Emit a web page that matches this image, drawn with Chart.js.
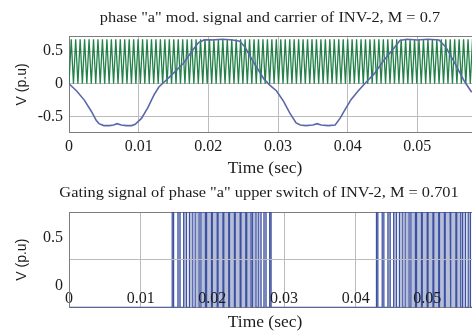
<!DOCTYPE html>
<html>
<head>
<meta charset="utf-8">
<script src="https://cdn.jsdelivr.net/npm/chart.js@4.4.1/dist/chart.umd.min.js"></script>
<style>
  body { margin: 0; width: 472px; height: 331px; overflow: hidden; background: #fff; position: relative; }
  .box { position: absolute; left: 0; }
  .txt { position: absolute; font-family: "Liberation Serif", "Times New Roman", serif; color: #1c1c1c;
         white-space: nowrap; transform: translateX(-50%) scaleX(1.09); line-height: 20px; height: 20px; }
</style>
</head>
<body>
<div class="box" style="top:0; width:505px; height:161px;"><canvas id="modChart"></canvas></div>
<div class="box" style="top:180px; width:505px; height:143px;"><canvas id="gateChart"></canvas></div>

<div class="txt" style="left:270px; top:7px; font-size:15px;">phase "a" mod. signal and carrier of INV-2, M = 0.7</div>
<div class="txt" style="left:265px; top:158px; font-size:16px;">Time (sec)</div>
<div class="txt" style="left:259px; top:182px; font-size:15px;">Gating signal of phase "a" upper switch of INV-2, M = 0.701</div>
<div class="txt" style="left:265px; top:312px; font-size:16px;">Time (sec)</div>

<script>
// time axis (s)
const timeTicks = [0, 0.01, 0.02, 0.03, 0.04, 0.05, 0.06];
const timeTickLabels = ["0", "0.01", "0.02", "0.03", "0.04", "0.05", "0.06"];

// upper plot: modulating signal of phase a
const modTime = [0, 0.0011, 0.0022, 0.0032, 0.0039, 0.0043, 0.0050, 0.0058, 0.0064, 0.0069, 0.0075, 0.0082,
  0.0090, 0.0095, 0.0104, 0.0113, 0.0122, 0.0129, 0.0134, 0.0146, 0.0164, 0.0178, 0.0186, 0.0194, 0.0205,
  0.0220, 0.0235, 0.0245, 0.0252, 0.0266, 0.0280, 0.0289, 0.0298, 0.0308, 0.0317, 0.0326, 0.0332, 0.0340,
  0.0350, 0.0356, 0.0362, 0.0372, 0.0382, 0.0389, 0.0396, 0.0405, 0.0415, 0.0426, 0.0438, 0.0452, 0.0466,
  0.0475, 0.0485, 0.0500, 0.0515, 0.0531, 0.0541, 0.0551, 0.0560, 0.0568, 0.0578];
const modValue = [0, -0.11, -0.25, -0.42, -0.56, -0.61, -0.64, -0.64, -0.63, -0.61, -0.63, -0.64,
  -0.64, -0.62, -0.53, -0.37, -0.17, -0.05, 0, 0.12, 0.31, 0.52, 0.63, 0.67, 0.67,
  0.68, 0.67, 0.65, 0.57, 0.31, 0.07, -0.03, -0.11, -0.27, -0.45, -0.60, -0.63, -0.64,
  -0.63, -0.61, -0.63, -0.64, -0.63, -0.53, -0.40, -0.24, -0.11, 0.02, 0.15, 0.36, 0.54,
  0.66, 0.68, 0.67, 0.68, 0.67, 0.56, 0.37, 0.19, 0.03, -0.13];

// triangular carrier: valley / peak levels and time between them (s)
const carrierLevels = [0, 0.68];
const carrierHalfPeriod = 0.00032;
const carrierEnd = 0.06;

const modTicks = [-0.5, 0, 0.5];
const modTickLabels = ["-0.5", "0", "0.5"];

// lower plot: gating pulses of the upper switch (rising / falling edge times, s)
const gateOn = [0.0144, 0.0152, 0.0160, 0.0168, 0.0176, 0.0184, 0.0192, 0.0200, 0.0208, 0.0216, 0.0224, 0.0232,
  0.0240, 0.0248, 0.0256, 0.0264, 0.0272, 0.0280,
  0.0429, 0.0437, 0.0445, 0.0453, 0.0461, 0.0469, 0.0477, 0.0485, 0.0493, 0.0501, 0.0509, 0.0517,
  0.0525, 0.0533, 0.0541, 0.0549, 0.0557, 0.0565];
const gateOff = [0.0146, 0.0155, 0.0164, 0.01728, 0.01816, 0.01904, 0.01988, 0.02068, 0.02148, 0.02228, 0.02308, 0.02388,
  0.02466, 0.0254, 0.0261, 0.0268, 0.0275, 0.0282,
  0.0431, 0.04394, 0.04482, 0.0457, 0.04658, 0.04746, 0.04834, 0.04918, 0.04998, 0.05078, 0.05158, 0.05238,
  0.05318, 0.05398, 0.05466, 0.05534, 0.05602, 0.0567];
const gateLevels = [0, 1];

const gateTicks = [0, 0.5];
const gateTickLabels = ["0", "0.5"];

const gridColor = "#bcbcbc";
const frameColor = "#7d7d7d";
const textColor = "#1c1c1c";
const tickFont = { family: "'Liberation Serif', serif", size: 16 };

const modPoints = modTime.map((t, i) => ({ x: t, y: modValue[i] }));

const carrierPoints = [];
for (let k = 0; k * carrierHalfPeriod <= carrierEnd; k++) {
  carrierPoints.push({ x: k * carrierHalfPeriod, y: carrierLevels[k % 2] });
}

const gatePoints = [{ x: 0, y: gateLevels[0] }];
gateOn.forEach((t, i) => {
  gatePoints.push({ x: t, y: gateLevels[0] }, { x: t, y: gateLevels[1] },
                  { x: gateOff[i], y: gateLevels[1] }, { x: gateOff[i], y: gateLevels[0] });
});
gatePoints.push({ x: carrierEnd, y: gateLevels[0] });

function setTicks(values) {
  return function (scale) { scale.ticks = values.map(v => ({ value: v })); };
}

function timeAxis(extra) {
  return Object.assign({
    type: "linear", min: 0, max: 0.06,
    afterBuildTicks: setTicks(timeTicks),
    ticks: { callback: (v, i) => timeTickLabels[i], font: tickFont, color: textColor, maxRotation: 0, autoSkip: false, padding: 4 },
    grid: { color: gridColor, drawTicks: false },
    border: { color: frameColor }
  }, extra);
}

const topFrame = {
  type: "linear", position: "top", min: 0, max: 0.06,
  ticks: { display: false },
  grid: { display: false, drawTicks: false },
  border: { color: frameColor }
};

function voltAxis(min, max, ticks, labels, extra) {
  return Object.assign({
    min: min, max: max,
    afterBuildTicks: setTicks(ticks),
    afterFit: scale => { scale.width = 69; },
    ticks: { callback: (v, i) => labels[i], font: tickFont, color: textColor, padding: 6 },
    grid: { color: gridColor, drawTicks: false },
    border: { color: frameColor },
    title: { display: true, text: "V (p.u)", color: textColor, font: { family: "'Liberation Sans', sans-serif", size: 14 }, padding: { top: 14, bottom: 0 } }
  }, extra);
}

const baseOptions = {
  animation: false,
  responsive: true,
  maintainAspectRatio: false,
  plugins: { legend: { display: false }, tooltip: { enabled: false } }
};

new Chart(document.getElementById("modChart"), {
  type: "line",
  data: {
    datasets: [
      { data: modPoints, borderColor: "#5a68aa", borderWidth: 1.6, pointRadius: 0, xAxisID: "x", yAxisID: "y" },
      { data: carrierPoints, borderColor: "#238049", borderWidth: 1.3, pointRadius: 0, xAxisID: "x", yAxisID: "y" }
    ]
  },
  options: Object.assign({}, baseOptions, {
    layout: { padding: { top: 36, right: 6, bottom: 1, left: 0 } },
    scales: {
      x: timeAxis(),
      xTop: topFrame,
      y: voltAxis(-0.75, 0.73, modTicks, modTickLabels)
    }
  })
});

new Chart(document.getElementById("gateChart"), {
  type: "line",
  data: {
    datasets: [
      { data: gatePoints, borderColor: "#3d51a3", borderWidth: 1.2, pointRadius: 0,
        fill: "origin", backgroundColor: "rgba(112,126,178,0.5)", xAxisID: "x", yAxisID: "y" }
    ]
  },
  options: Object.assign({}, baseOptions, {
    layout: { padding: { top: 32, right: 6, bottom: 6, left: 0 } },
    scales: {
      x: timeAxis({
        ticks: { callback: (v, i) => timeTickLabels[i], font: tickFont, color: textColor, maxRotation: 0, autoSkip: false, padding: -18, z: 1 }
      }),
      xTop: topFrame,
      y: voltAxis(0, 1, gateTicks, gateTickLabels, {
        ticks: { callback: (v, i) => gateTickLabels[i], font: tickFont, color: textColor, padding: 6, labelOffset: -22 },
        grid: { color: ctx => ctx.tick && ctx.tick.value === 0 ? "rgba(0,0,0,0)" : gridColor, drawTicks: false, z: 1 },
        border: { color: frameColor, z: 1 }
      })
    }
  })
});
</script>
</body>
</html>
